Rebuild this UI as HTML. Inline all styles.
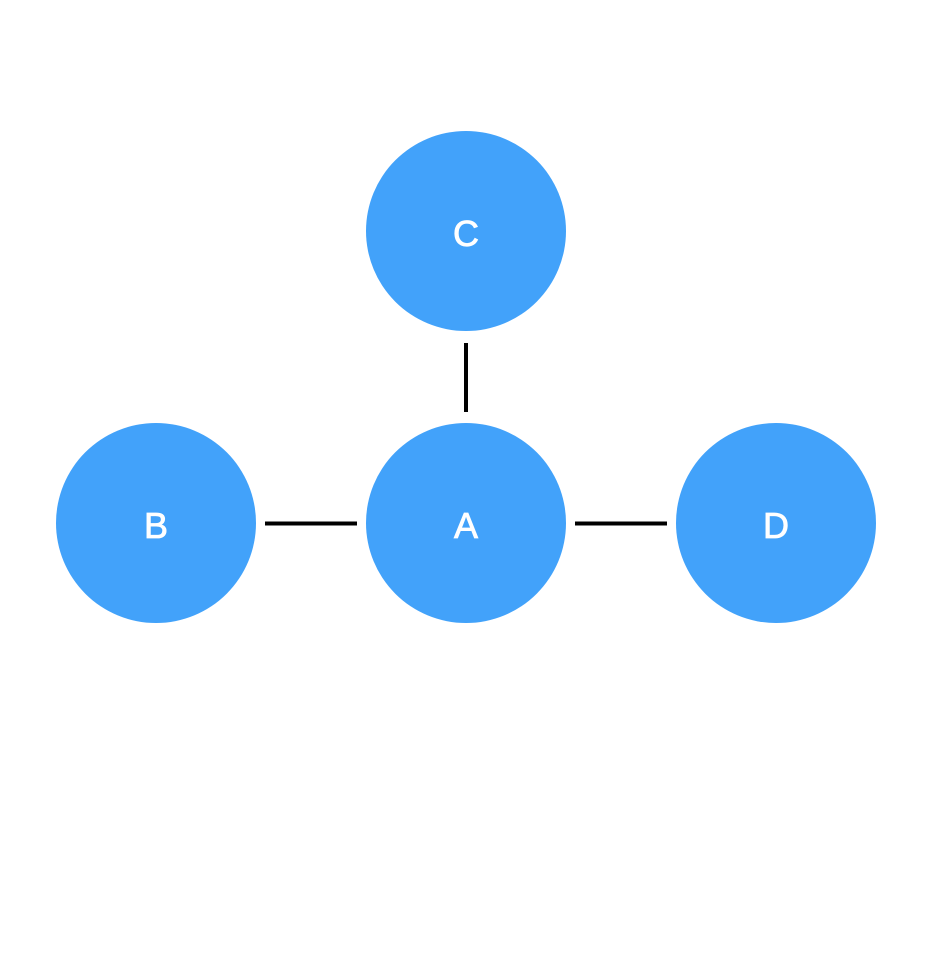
<!DOCTYPE html>
<html><head><style>html,body{margin:0;padding:0;background:#fff;}svg{display:block}</style></head>
<body>
<svg width="944" height="976" viewBox="0 0 944 976" xmlns="http://www.w3.org/2000/svg">
<g fill="#42a2fa">
<circle cx="466" cy="231" r="100"/>
<circle cx="156" cy="523" r="100"/>
<circle cx="466" cy="523" r="100"/>
<circle cx="776" cy="523" r="100"/>
</g>
<g stroke="#000" stroke-width="4">
<line x1="466" y1="343" x2="466" y2="412"/>
<line x1="265" y1="523.5" x2="357" y2="523.5"/>
<line x1="575" y1="523.5" x2="667" y2="523.5"/>
</g>
<g fill="#fff" stroke="#fff" stroke-width="0.8" font-family="Liberation Sans, sans-serif" font-size="36" text-anchor="middle">
<text x="466" y="246">C</text>
<text x="156" y="538">B</text>
<text x="466" y="538">A</text>
<text x="776" y="538">D</text>
</g>
</svg>
</body></html>
